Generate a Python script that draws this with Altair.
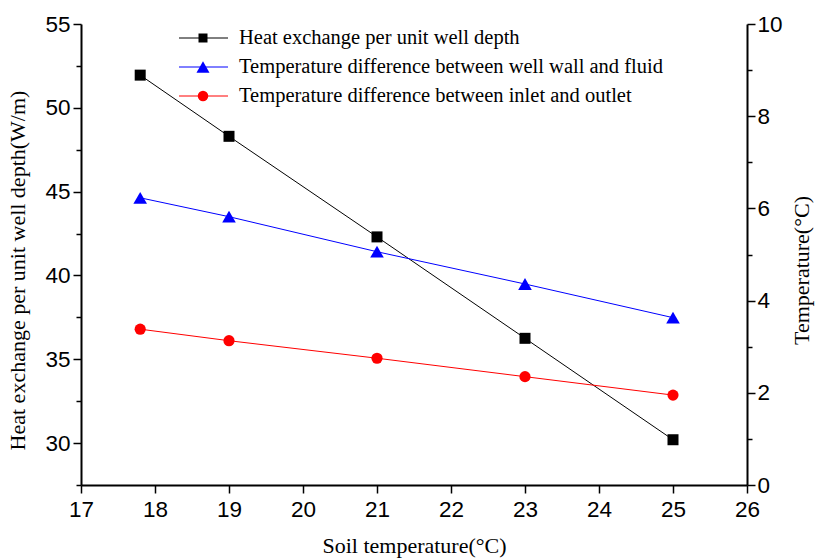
import altair as alt
import pandas as pd

# Soil temperature (°C) at each test point
soil_temp = [17.8, 19, 21, 23, 25]
# Heat exchange per unit well depth (W/m)
heat_exchange = [51.95, 48.3, 42.3, 36.25, 30.2]
# Temperature differences (°C)
wall_fluid_diff = [6.23, 5.82, 5.06, 4.36, 3.63]
inlet_outlet_diff = [3.38, 3.13, 2.75, 2.35, 1.95]

series_names = [
    "Heat exchange per unit well depth",
    "Temperature difference between well wall and fluid",
    "Temperature difference between inlet and outlet",
]
series_colors = ["#000000", "#0000FF", "#FF0000"]
series_shapes = ["square", "triangle-up", "circle"]

x_ticks = [17 + 0.5 * i for i in range(19)]
left_ticks = [27.5 + 2.5 * i for i in range(12)]
right_ticks = list(range(11))

SANS = "Liberation Sans"
SERIF = "Liberation Serif"

heat_df = pd.DataFrame({"soil": soil_temp, "value": heat_exchange})
temp_df = pd.DataFrame({
    "soil": soil_temp * 2,
    "value": wall_fluid_diff + inlet_outlet_diff,
    "series": [series_names[1]] * 5 + [series_names[2]] * 5,
})

axis_common = dict(
    domainColor="black", domainWidth=2, tickColor="black", tickWidth=1.5,
    labelFont=SANS, labelFontSize=22.5, labelColor="black",
    titleFont=SERIF, titleFontSize=22, titleFontWeight="normal", titleColor="black",
    grid=False, labelOverlap=False, labelFlush=False, format="d",
)

x_enc = alt.X(
    "soil:Q",
    scale=alt.Scale(domain=[17, 26], nice=False, zero=False),
    axis=alt.Axis(
        title="Soil temperature(°C)", values=x_ticks,
        labelExpr="datum.value % 1 === 0 ? datum.label : ''",
        tickSize={"condition": {"test": "datum.value % 1 === 0", "value": 8}, "value": 5},
        labelPadding=5, titlePadding=15, **axis_common,
    ),
)

left_y = alt.Y(
    "value:Q",
    scale=alt.Scale(domain=[27.5, 55], nice=False, zero=False),
    axis=alt.Axis(
        title="Heat exchange per unit well depth(W/m)", orient="left", values=left_ticks,
        labelExpr="datum.value % 5 === 0 ? datum.label : ''",
        tickSize={"condition": {"test": "datum.value % 5 === 0", "value": 8}, "value": 5},
        labelPadding=3, titlePadding=15, titleY=246, **axis_common,
    ),
)

right_y = alt.Y(
    "value:Q",
    scale=alt.Scale(domain=[0, 10], nice=False, zero=False),
    axis=alt.Axis(
        title="Temperature(°C)", orient="right", values=right_ticks,
        labelExpr="datum.value % 2 === 0 ? datum.label : ''",
        tickSize={"condition": {"test": "datum.value % 2 === 0", "value": 8}, "value": 5},
        labelPadding=2, titlePadding=31, titleAngle=270, titleY=246, **axis_common,
    ),
)

heat_line = alt.Chart(heat_df).mark_line(color="black", strokeWidth=1).encode(x=x_enc, y=left_y)
heat_pts = alt.Chart(heat_df).mark_point(
    shape="square", filled=True, color="black", size=121, opacity=1
).encode(x=x_enc, y=left_y)
left_layer = alt.layer(heat_line, heat_pts)

color_scale = alt.Scale(domain=series_names[1:], range=series_colors[1:])
shape_scale = alt.Scale(domain=series_names[1:], range=series_shapes[1:])
size_scale = alt.Scale(domain=series_names[1:], range=[185, 125])
temp_line = alt.Chart(temp_df).mark_line(strokeWidth=1).encode(
    x=x_enc, y=right_y,
    color=alt.Color("series:N", scale=color_scale, legend=None),
)
temp_pts = alt.Chart(temp_df).mark_point(filled=True, opacity=1).encode(
    x=x_enc, y=right_y,
    color=alt.Color("series:N", scale=color_scale, legend=None),
    shape=alt.Shape("series:N", scale=shape_scale, legend=None),
    size=alt.Size("series:N", scale=size_scale, legend=None),
)
right_layer = alt.layer(temp_line, temp_pts)

# Hand-built legend in the upper part of the plot
one_row = pd.DataFrame({"k": [0]})
legend_layers = []
row_y = [38, 67, 96]
marker_sizes = [81, 170, 110]
for name, col, shp, yy, ms in zip(series_names, series_colors, series_shapes, row_y, marker_sizes):
    legend_layers.append(
        alt.Chart(one_row).mark_rule(color=col, strokeWidth=1).encode(
            x=alt.value(179 - 81), x2=alt.value(228 - 81), y=alt.value(yy - 24)
        )
    )
    legend_layers.append(
        alt.Chart(one_row).mark_point(shape=shp, filled=True, color=col, size=ms, opacity=1).encode(
            x=alt.value(203 - 81), y=alt.value(yy - 24)
        )
    )
    legend_layers.append(
        alt.Chart(one_row).mark_text(
            text=name, align="left", baseline="middle", font=SERIF, fontSize=20.5, color="black"
        ).encode(x=alt.value(239 - 81), y=alt.value(yy - 24))
    )

chart = alt.layer(left_layer, right_layer, *legend_layers).resolve_scale(
    y="independent", color="independent", shape="independent", size="independent"
).properties(
    width=666, height=461,
    autosize=alt.AutoSizeParams(type="none"),
    padding={"left": 81, "top": 24, "right": 68, "bottom": 75},
    background="white",
).configure_view(stroke=None)

chart.save("out.html", embed_options={"renderer": "svg", "actions": False})
